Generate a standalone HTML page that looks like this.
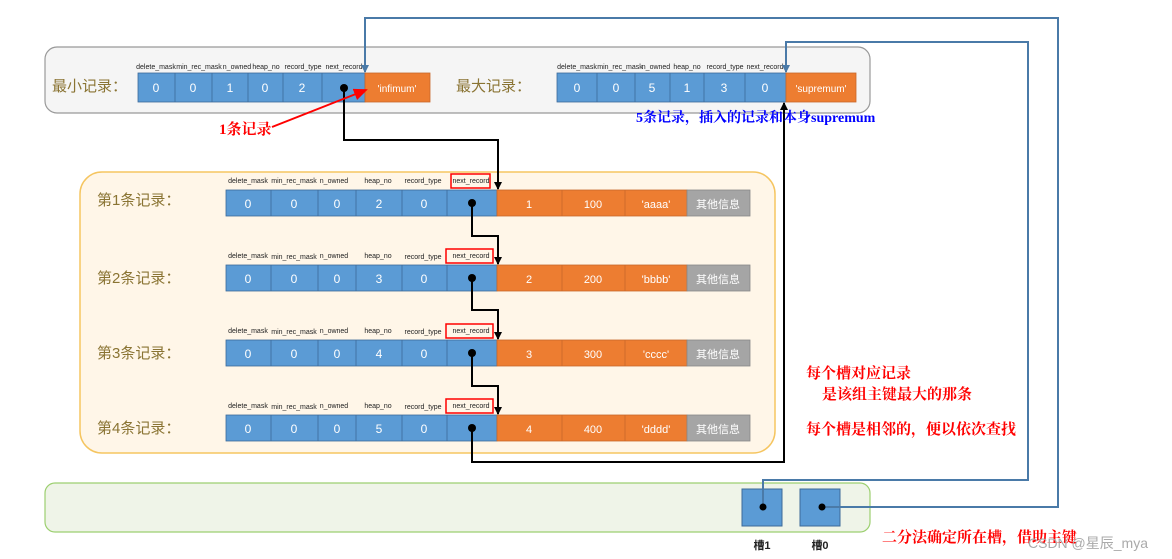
<!DOCTYPE html>
<html><head><meta charset="utf-8"><style>
html,body{margin:0;padding:0;background:#fff;}
svg{display:block;font-family:"Liberation Sans","Noto Sans CJK SC",sans-serif;}
.f{font-size:7px;fill:#222;text-anchor:middle}
.v{font-size:12px;fill:#fff;text-anchor:middle}
.lb{font-size:15px;fill:#8a7433}
</style></head><body>
<svg width="1172" height="559" viewBox="0 0 1172 559" xmlns="http://www.w3.org/2000/svg">
<defs>
<marker id="ab" markerWidth="8" markerHeight="8" refX="7" refY="4" orient="auto" markerUnits="userSpaceOnUse"><path d="M0,0 L8,4 L0,8z" fill="#000"/></marker>
<marker id="abl" markerWidth="8" markerHeight="8" refX="7" refY="4" orient="auto" markerUnits="userSpaceOnUse"><path d="M0,0 L8,4 L0,8z" fill="#4a7aa8"/></marker>
<marker id="ar" markerWidth="14" markerHeight="12" refX="12" refY="6" orient="auto" markerUnits="userSpaceOnUse"><path d="M0,0 L14,6 L0,12z" fill="#f00"/></marker>
</defs>

<rect x="45" y="47" width="825" height="66" rx="12" fill="#f5f5f5" stroke="#999" stroke-width="1.2"/>
<text x="52" y="91" class="lb">最小记录：</text>
<text x="456" y="91" class="lb">最大记录：</text>
<g stroke="#3d6a99" stroke-width="0.8">
<rect x="138" y="73" width="227" height="29" fill="#5b9bd5"/>
<line x1="175" y1="73" x2="175" y2="102"/><line x1="212" y1="73" x2="212" y2="102"/><line x1="248" y1="73" x2="248" y2="102"/><line x1="283" y1="73" x2="283" y2="102"/><line x1="322" y1="73" x2="322" y2="102"/>
<rect x="365" y="73" width="65" height="29" fill="#ed7d31" stroke="#c8682a"/>
<rect x="557" y="73" width="229" height="29" fill="#5b9bd5"/>
<line x1="597" y1="73" x2="597" y2="102"/><line x1="635" y1="73" x2="635" y2="102"/><line x1="670" y1="73" x2="670" y2="102"/><line x1="704" y1="73" x2="704" y2="102"/><line x1="745" y1="73" x2="745" y2="102"/>
<rect x="786" y="73" width="70" height="29" fill="#ed7d31" stroke="#c8682a"/>
</g>
<g class="f">
<text x="156" y="69">delete_mask</text><text x="199" y="69">min_rec_mask</text><text x="237" y="69">n_owned</text><text x="266" y="69">heap_no</text><text x="303" y="69">record_type</text><text x="344" y="69">next_record</text>
<text x="577" y="69">delete_mask</text><text x="620" y="69">min_rec_mask</text><text x="656" y="69">n_owned</text><text x="687" y="69">heap_no</text><text x="725" y="69">record_type</text><text x="765" y="69">next_record</text>
</g>
<g class="v">
<text x="156" y="92">0</text><text x="193" y="92">0</text><text x="230" y="92">1</text><text x="265" y="92">0</text><text x="302" y="92">2</text>
<text x="397" y="92" font-size="10">'infimum'</text>
<text x="577" y="92">0</text><text x="616" y="92">0</text><text x="652" y="92">5</text><text x="687" y="92">1</text><text x="724" y="92">3</text><text x="765" y="92">0</text>
<text x="821" y="92" font-size="10">'supremum'</text>
</g>

<rect x="80" y="172" width="695" height="281" rx="22" fill="#fff6e8" stroke="#f5c560" stroke-width="1.5"/>
<text x="97" y="205" class="lb">第1条记录：</text>
<text x="97" y="283" class="lb">第2条记录：</text>
<text x="97" y="358" class="lb">第3条记录：</text>
<text x="97" y="433" class="lb">第4条记录：</text>

<g stroke="#3d6a99" stroke-width="0.8">
<rect x="226" y="190" width="271" height="26" fill="#5b9bd5"/>
<rect x="226" y="265" width="271" height="26" fill="#5b9bd5"/>
<rect x="226" y="340" width="271" height="26" fill="#5b9bd5"/>
<rect x="226" y="415" width="271" height="26" fill="#5b9bd5"/>
<path d="M271,190v26M318,190v26M356,190v26M402,190v26M447,190v26 M271,265v26M318,265v26M356,265v26M402,265v26M447,265v26 M271,340v26M318,340v26M356,340v26M402,340v26M447,340v26 M271,415v26M318,415v26M356,415v26M402,415v26M447,415v26"/>
</g>
<g stroke="#c8682a" stroke-width="0.8" fill="#ed7d31">
<rect x="497" y="190" width="190" height="26"/><rect x="497" y="265" width="190" height="26"/><rect x="497" y="340" width="190" height="26"/><rect x="497" y="415" width="190" height="26"/>
<path d="M562,190v26M625,190v26M562,265v26M625,265v26M562,340v26M625,340v26M562,415v26M625,415v26"/>
</g>
<g fill="#a5a5a5" stroke="#888" stroke-width="0.8">
<rect x="687" y="190" width="63" height="26"/><rect x="687" y="265" width="63" height="26"/><rect x="687" y="340" width="63" height="26"/><rect x="687" y="415" width="63" height="26"/>
</g>

<g class="f">
<text x="248" y="183">delete_mask</text><text x="294" y="183">min_rec_mask</text><text x="334" y="183">n_owned</text><text x="378" y="183">heap_no</text><text x="423" y="183">record_type</text><text x="471" y="183">next_record</text>
<text x="248" y="258">delete_mask</text><text x="294" y="259">min_rec_mask</text><text x="334" y="258">n_owned</text><text x="378" y="258">heap_no</text><text x="423" y="259">record_type</text><text x="471" y="258">next_record</text>
<text x="248" y="333">delete_mask</text><text x="294" y="334">min_rec_mask</text><text x="334" y="333">n_owned</text><text x="378" y="333">heap_no</text><text x="423" y="334">record_type</text><text x="471" y="333">next_record</text>
<text x="248" y="408">delete_mask</text><text x="294" y="409">min_rec_mask</text><text x="334" y="408">n_owned</text><text x="378" y="408">heap_no</text><text x="423" y="409">record_type</text><text x="471" y="408">next_record</text>
</g>
<g fill="none" stroke="#f00" stroke-width="1.5">
<rect x="451" y="174" width="39" height="14"/><rect x="446" y="249" width="47" height="14"/><rect x="446" y="324" width="47" height="14"/><rect x="446" y="399" width="47" height="14"/>
</g>

<g class="v">
<text x="248" y="208">0</text><text x="294" y="208">0</text><text x="337" y="208">0</text><text x="379" y="208">2</text><text x="424" y="208">0</text>
<text x="529" y="208" font-size="11">1</text><text x="593" y="208" font-size="11">100</text><text x="656" y="208" font-size="11">'aaaa'</text><text x="718" y="208" font-size="11">其他信息</text>
<text x="248" y="283">0</text><text x="294" y="283">0</text><text x="337" y="283">0</text><text x="379" y="283">3</text><text x="424" y="283">0</text>
<text x="529" y="283" font-size="11">2</text><text x="593" y="283" font-size="11">200</text><text x="656" y="283" font-size="11">'bbbb'</text><text x="718" y="283" font-size="11">其他信息</text>
<text x="248" y="358">0</text><text x="294" y="358">0</text><text x="337" y="358">0</text><text x="379" y="358">4</text><text x="424" y="358">0</text>
<text x="529" y="358" font-size="11">3</text><text x="593" y="358" font-size="11">300</text><text x="656" y="358" font-size="11">'cccc'</text><text x="718" y="358" font-size="11">其他信息</text>
<text x="248" y="433">0</text><text x="294" y="433">0</text><text x="337" y="433">0</text><text x="379" y="433">5</text><text x="424" y="433">0</text>
<text x="529" y="433" font-size="11">4</text><text x="593" y="433" font-size="11">400</text><text x="656" y="433" font-size="11">'dddd'</text><text x="718" y="433" font-size="11">其他信息</text>
</g>

<rect x="45" y="483" width="825" height="49" rx="10" fill="#eff4e8" stroke="#9ccf70" stroke-width="1.2"/>
<rect x="742" y="489" width="40" height="37" fill="#5b9bd5" stroke="#3d6a99"/>
<rect x="800" y="489" width="40" height="37" fill="#5b9bd5" stroke="#3d6a99"/>
<text x="762" y="549" font-size="11" font-weight="bold" text-anchor="middle" fill="#222">槽1</text>
<text x="820" y="549" font-size="11" font-weight="bold" text-anchor="middle" fill="#222">槽0</text>

<g fill="none" stroke="#4a7aa8" stroke-width="2">
<path d="M822,507 H1058 V18 H365 V72" marker-end="url(#abl)"/>
<path d="M763,507 V480 H1028 V42 H786 V72" marker-end="url(#abl)"/>
</g>
<circle cx="763" cy="507" r="3.5"/><circle cx="822" cy="507" r="3.5"/>

<g fill="none" stroke="#000" stroke-width="2">
<path d="M344,88 V140 H498 V189" marker-end="url(#ab)"/>
<path d="M472,203 V236 H498 V264" marker-end="url(#ab)"/>
<path d="M472,278 V310 H498 V339" marker-end="url(#ab)"/>
<path d="M472,353 V386 H498 V414" marker-end="url(#ab)"/>
<path d="M472,428 V462 H784 V103" marker-end="url(#ab)"/>
</g>
<g fill="#000"><circle cx="344" cy="88" r="4"/><circle cx="472" cy="203" r="4"/><circle cx="472" cy="278" r="4"/><circle cx="472" cy="353" r="4"/><circle cx="472" cy="428" r="4"/></g>

<line x1="272" y1="127" x2="366" y2="90" stroke="#f00" stroke-width="2" marker-end="url(#ar)"/>
<g font-family="'Liberation Serif','Noto Serif CJK SC',serif" font-weight="bold">
<text x="219" y="134" font-size="15" fill="#f00">1条记录</text>
<text x="636" y="122" font-size="14" fill="#00f">5条记录，插入的记录和本身supremum</text>
<text x="806" y="378" font-size="15" fill="#f00">每个槽对应记录</text>
<text x="822" y="399" font-size="15" fill="#f00">是该组主键最大的那条</text>
<text x="806" y="434" font-size="15" fill="#f00">每个槽是相邻的，便以依次查找</text>
<text x="882" y="542" font-size="15" fill="#f00">二分法确定所在槽，借助主键</text>
</g>
<text x="1028" y="548" font-size="14" fill="#aaa">CSDN @星辰_mya</text>
</svg>
</body></html>
